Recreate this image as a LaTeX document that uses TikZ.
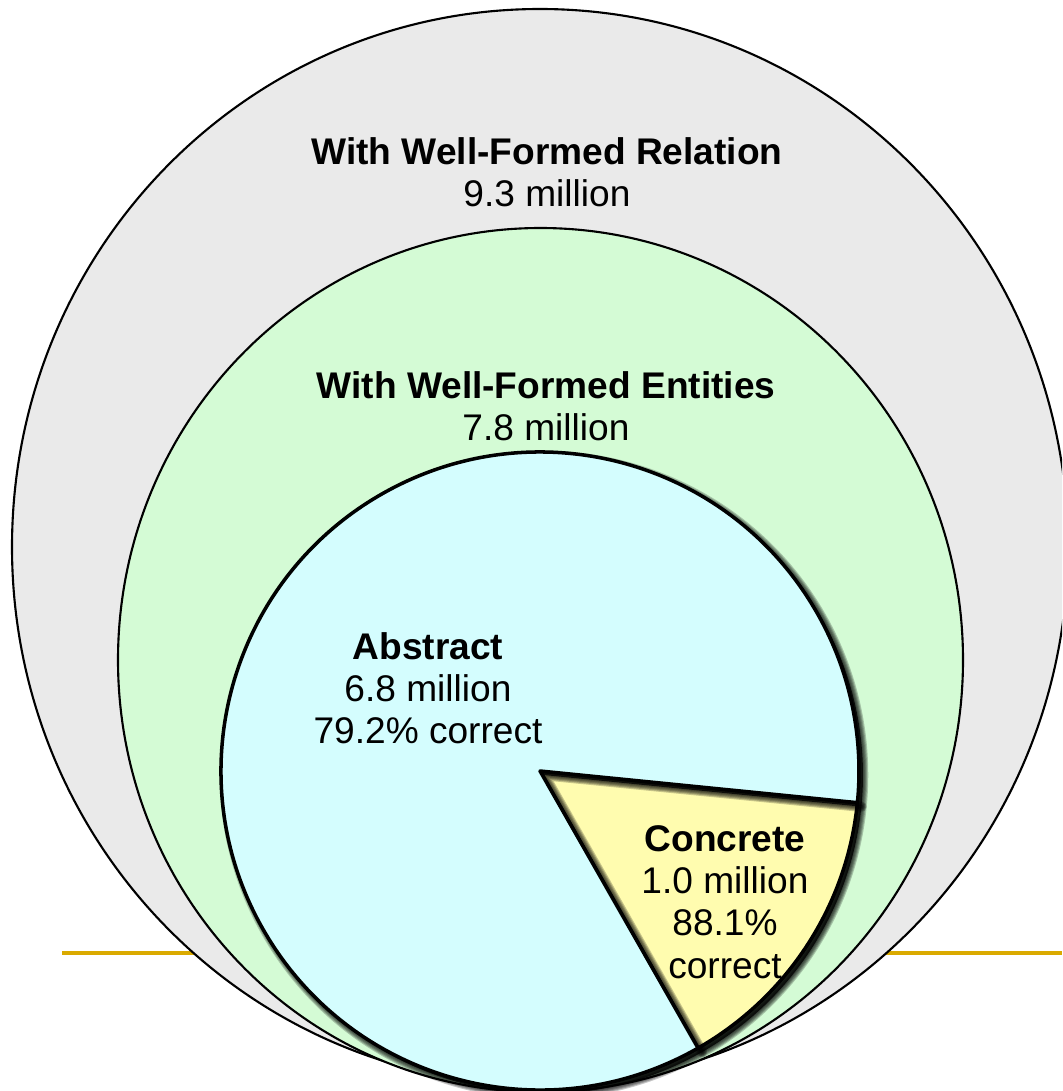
\documentclass[tikz,border=0pt]{standalone}
\usepackage{fontspec}
\setmainfont{Liberation Sans}
\definecolor{outergray}{HTML}{EAEAEA}
\definecolor{entgreen}{HTML}{D4FBD5}
\definecolor{abscyan}{HTML}{D4FDFE}
\definecolor{concyellow}{HTML}{FFFCAF}
\definecolor{goldline}{HTML}{DAAA00}
\newcommand\softshadow[1]{%
  \begin{scope}[shift={(4,4)}]
    \fill[black,opacity=0.8] #1;
    \foreach \w in {3.0,2.4,1.8,1.2,0.6}{\draw[black,opacity=0.22,line width=\w pt,line join=round] #1;}
  \end{scope}}
\tikzset{
  ring/.style={draw=black,line width=0.6pt},
  slice/.style={draw=black,line width=1.0pt,line join=round},
  lbl/.style={align=center,font=\fontsize{10.55}{12}\selectfont,text=black,inner sep=0pt}
}
\begin{document}
\begin{tikzpicture}[x=0.01cm,y=-0.01cm]
\useasboundingbox (0,0) rectangle (1062,1091);
\clip (0,0) rectangle (1062,1091);
\fill[white] (0,0) rectangle (1062,1091);
% gold rule behind the circles
\coordinate (ruleL) at (62,953);
\coordinate (ruleR) at (1062,953);
\draw[goldline,line width=1.2pt] (ruleL) -- (ruleR);
% outer and middle ellipses
\filldraw[ring,fill=outergray] (540,547) ellipse [x radius=528,y radius=538];
\filldraw[ring,fill=entgreen] (540.5,660) ellipse [x radius=422.5,y radius=432];
% concrete wedge
\def\wedgepath{(540,771) -- ++(5.7:319) arc[start angle=5.7,end angle=60.3,radius=319] -- cycle}
\def\abspath{(540,771) -- ++(60.3:319) arc[start angle=60.3,end angle=365.7,radius=319] -- cycle}
\softshadow{\wedgepath}
\filldraw[slice,fill=concyellow] \wedgepath;
\softshadow{\abspath}
\filldraw[slice,fill=abscyan] \abspath;
% labels
\node[lbl] (rel) at (547,172) {\textbf{With Well-Formed Relation}\\9.3 million};
\node[lbl] (ent) at (546,406) {\textbf{With Well-Formed Entities}\\7.8 million};
\node[lbl] (abs) at (428,688) {\textbf{Abstract}\\6.8 million\\79.2\% correct};
\node[lbl] (con) at (725,902) {\textbf{Concrete}\\1.0 million\\88.1\%\\correct};
\end{tikzpicture}
\end{document}
